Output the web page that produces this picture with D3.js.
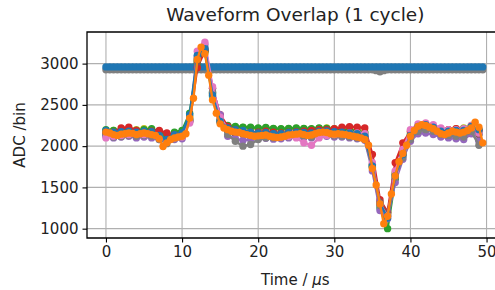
<!DOCTYPE html>
<html>
<head>
<meta charset="utf-8">
<script src="https://cdnjs.cloudflare.com/ajax/libs/d3/7.8.5/d3.min.js"></script>
<style>
  body { margin: 0; background: #fff; }
  svg { display: block; font-family: "DejaVu Sans", sans-serif; }
</style>
</head>
<body>
<div id="chart"></div>
<script>
// sample times (us): flat channels + main trace every 0.5 us, the rest every 1 us
var tFine = d3.range(0, 50, 0.5);
var tCoarse = d3.range(0, 50, 1);

var xTicks = [0, 10, 20, 30, 40, 50];
var yTicks = [1000, 1500, 2000, 2500, 3000];

// two channels sitting flat near the top
var flatHigh = [
  2960,2960,2960,2960,2960,2960,2960,2960,2960,2960,
  2960,2960,2960,2960,2960,2960,2960,2960,2960,2960,
  2960,2960,2960,2960,2960,2960,2960,2960,2960,2960,
  2960,2960,2960,2960,2960,2960,2960,2960,2960,2960,
  2960,2960,2960,2960,2960,2960,2960,2960,2960,2960,
  2960,2960,2960,2960,2960,2960,2960,2960,2960,2960,
  2960,2960,2960,2960,2960,2960,2960,2960,2960,2960,
  2960,2960,2960,2960,2960,2960,2960,2960,2960,2960,
  2960,2960,2960,2960,2960,2960,2960,2960,2960,2960,
  2960,2960,2960,2960,2960,2960,2960,2960,2960,2960
];
var flatLow = [
  2925,2925,2925,2925,2925,2925,2925,2925,2925,2925,
  2925,2925,2925,2925,2925,2925,2925,2925,2925,2925,
  2925,2925,2925,2925,2925,2925,2925,2925,2925,2925,
  2925,2925,2925,2925,2925,2925,2925,2925,2925,2925,
  2925,2925,2925,2925,2925,2925,2925,2925,2925,2925,
  2925,2925,2925,2925,2925,2925,2925,2925,2925,2925,
  2925,2925,2925,2925,2925,2925,2925,2925,2925,2925,
  2925,2915,2900,2915,2925,2925,2925,2925,2925,2925,
  2925,2925,2925,2925,2925,2925,2925,2925,2925,2925,
  2925,2925,2925,2925,2925,2925,2925,2925,2925,2925
];

// waveforms, one value per us
var waveBlue = [2190,2170,2175,2180,2170,2180,2175,2130,2080,2140,2160,2380,3100,3180,2620,2300,2220,2200,2190,2170,2160,2165,2150,2150,2165,2170,2165,2160,2180,2185,2175,2170,2160,2150,2120,1760,1300,1130,1640,1900,2130,2240,2260,2230,2180,2180,2190,2190,2240,2200];
var waveGreen = [2200,2190,2195,2200,2190,2200,2210,2180,2120,2170,2190,2400,3000,3150,2650,2330,2250,2240,2230,2230,2220,2225,2215,2210,2215,2220,2215,2210,2220,2215,2205,2200,2195,2180,2160,1750,1250,1000,1600,1900,2140,2230,2240,2230,2200,2190,2200,2210,2230,2180];
var waveRed = [2150,2170,2220,2230,2190,2170,2180,2190,2160,2140,2150,2300,2950,3160,2700,2380,2240,2200,2180,2170,2170,2180,2170,2160,2170,2175,2180,2190,2200,2200,2210,2230,2235,2230,2220,1900,1350,1200,1800,2040,2180,2230,2220,2200,2190,2200,2210,2200,2230,2190];
var wavePurple = [2120,2100,2110,2120,2100,2110,2100,2080,2050,2080,2090,2300,3080,3230,2700,2380,2120,2090,2070,2080,2090,2095,2085,2090,2100,2110,2105,2100,2120,2120,2110,2110,2100,2090,2070,1700,1220,1120,1560,1840,2060,2150,2160,2140,2110,2100,2090,2080,2150,2060];
var waveBrown = [2160,2150,2150,2170,2160,2170,2160,2120,2070,2110,2130,2320,3020,3170,2640,2300,2180,2150,2140,2150,2150,2155,2150,2140,2150,2160,2150,2150,2170,2170,2160,2165,2160,2150,2130,1780,1320,1180,1660,1880,2100,2200,2220,2200,2160,2150,2160,2160,2200,2140];
var wavePink = [2100,2120,2130,2140,2150,2140,2150,2110,2060,2100,2110,2280,3150,3260,2720,2350,2210,2180,2170,2160,2150,2140,2120,2110,2120,2100,2040,2010,2100,2130,2140,2150,2160,2160,2150,1800,1300,1150,1700,1960,2200,2270,2280,2260,2220,2200,2200,2210,2250,2160];
var waveGray = [2130,2110,2115,2130,2120,2130,2120,2080,2030,2090,2110,2310,3060,3190,2660,2320,2140,2060,2000,2020,2080,2100,2100,2105,2115,2120,2115,2110,2130,2135,2125,2120,2110,2100,2080,1740,1280,1160,1620,1860,2080,2180,2200,2180,2140,2130,2120,2110,2180,2010];
var waveOlive = [2180,2190,2185,2195,2200,2210,2190,2160,2110,2150,2170,2360,3030,3150,2620,2310,2240,2230,2225,2220,2215,2220,2210,2205,2210,2215,2210,2205,2215,2220,2210,2205,2200,2190,2170,1770,1310,1190,1680,1920,2160,2240,2250,2240,2210,2200,2210,2220,2250,2200];
var waveCyan = [2140,2130,2135,2150,2140,2150,2140,2100,2060,2110,2130,2330,3040,3140,2600,2290,2190,2160,2150,2140,2140,2150,2140,2135,2145,2155,2150,2145,2160,2160,2150,2150,2140,2130,2110,1760,1300,1160,1650,1900,2120,2210,2230,2200,2150,2150,2160,2160,2210,2150];

// main trace, every 0.5 us
var waveOrange = [
  2170,2160,2140,2130,2145,2150,2160,2155,2140,2150,
  2160,2150,2140,2130,2090,1995,2040,2080,2100,2110,
  2120,2150,2340,2580,3050,3200,3120,2860,2560,2400,
  2270,2220,2200,2180,2170,2165,2150,2140,2130,2120,
  2125,2130,2135,2120,2110,2105,2110,2120,2135,2140,
  2145,2150,2140,2130,2135,2150,2165,2170,2165,2150,
  2145,2150,2145,2140,2130,2120,2110,2100,2080,2010,
  1730,1530,1300,1060,1150,1420,1640,1810,1910,2010,
  2120,2190,2240,2260,2250,2230,2210,2180,2150,2140,
  2160,2180,2170,2160,2170,2190,2220,2290,2230,2040
];

var colors = {
  blue: '#1f77b4', orange: '#ff7f0e', green: '#2ca02c', red: '#d62728',
  purple: '#9467bd', brown: '#8c564b', pink: '#e377c2', gray: '#7f7f7f',
  olive: '#bcbd22', cyan: '#17becf'
};

// draw order: flat channels, the band, then the main trace on top
var series = [
  {t: tFine, v: flatLow, c: colors.gray},
  {t: tFine, v: flatHigh, c: colors.blue},
  {t: tCoarse, v: waveCyan, c: colors.cyan},
  {t: tCoarse, v: waveOlive, c: colors.olive},
  {t: tCoarse, v: waveGreen, c: colors.green},
  {t: tCoarse, v: waveRed, c: colors.red},
  {t: tCoarse, v: waveBrown, c: colors.brown},
  {t: tCoarse, v: wavePurple, c: colors.purple},
  {t: tCoarse, v: waveGray, c: colors.gray},
  {t: tCoarse, v: wavePink, c: colors.pink},
  {t: tCoarse, v: waveBlue, c: colors.blue},
  {t: tFine, v: waveOrange, c: colors.orange}
];

var W = 495, H = 290;
var plot = {left: 87, top: 32, right: 503.6, bottom: 238};

var x = d3.scaleLinear().domain([-2.49, 52.24]).range([plot.left, plot.right]);
var y = d3.scaleLinear().domain([887, 3383]).range([plot.bottom, plot.top]);

var svg = d3.select('#chart').append('svg')
  .attr('width', W)
  .attr('height', H);

svg.append('clipPath').attr('id', 'clip')
  .append('rect')
  .attr('x', plot.left).attr('y', plot.top)
  .attr('width', plot.right - plot.left).attr('height', plot.bottom - plot.top);

// grid
var grid = svg.append('g').attr('stroke', '#b0b0b0').attr('stroke-width', 1.1);
grid.selectAll('.gx').data(xTicks).enter().append('line')
  .attr('x1', function(d) { return x(d); }).attr('x2', function(d) { return x(d); })
  .attr('y1', plot.top).attr('y2', plot.bottom);
grid.selectAll('.gy').data(yTicks).enter().append('line')
  .attr('x1', plot.left).attr('x2', plot.right)
  .attr('y1', function(d) { return y(d); }).attr('y2', function(d) { return y(d); });

// traces
var line = d3.line()
  .x(function(d) { return x(d[0]); })
  .y(function(d) { return y(d[1]); });

var traces = svg.append('g').attr('clip-path', 'url(#clip)');
series.forEach(function(s) {
  var pts = s.t.map(function(t, i) { return [t, s.v[i]]; });
  var g = traces.append('g');
  g.append('path')
    .datum(pts)
    .attr('fill', 'none')
    .attr('stroke', s.c)
    .attr('stroke-width', 2.4)
    .attr('stroke-linejoin', 'round')
    .attr('d', line);
  g.selectAll('circle').data(pts).enter().append('circle')
    .attr('cx', function(d) { return x(d[0]); })
    .attr('cy', function(d) { return y(d[1]); })
    .attr('r', 3.7)
    .attr('fill', s.c);
});

// axes
var xAxis = svg.append('g')
  .attr('transform', 'translate(0,' + plot.bottom + ')')
  .call(d3.axisBottom(x).tickValues(xTicks).tickSize(4.5).tickPadding(4));
var yAxis = svg.append('g')
  .attr('transform', 'translate(' + plot.left + ',0)')
  .call(d3.axisLeft(y).tickValues(yTicks).tickSize(4.5).tickPadding(4).tickFormat(d3.format('d')));
[xAxis, yAxis].forEach(function(a) {
  a.select('.domain').remove();
  a.selectAll('.tick line').attr('stroke', '#000').attr('stroke-width', 1.1);
  a.selectAll('.tick text')
    .attr('font-family', '"DejaVu Sans", sans-serif')
    .attr('font-size', 15)
    .attr('fill', '#222');
});

// spines (left, bottom, top; right one falls outside the picture)
var spines = svg.append('g').attr('stroke', '#000').attr('stroke-width', 1.3).attr('fill', 'none');
spines.append('path')
  .attr('d', 'M' + plot.right + ',' + plot.top + 'H' + plot.left + 'V' + plot.bottom + 'H' + plot.right);

// labels
svg.append('text')
  .attr('x', (plot.left + plot.right) / 2).attr('y', 21)
  .attr('text-anchor', 'middle')
  .attr('font-size', 18.5)
  .attr('fill', '#222')
  .text('Waveform Overlap (1 cycle)');

var xl = svg.append('text')
  .attr('x', (plot.left + plot.right) / 2).attr('y', 285)
  .attr('text-anchor', 'middle')
  .attr('font-size', 15)
  .attr('fill', '#222');
xl.append('tspan').text('Time / ');
xl.append('tspan').attr('font-style', 'italic').text('μ');
xl.append('tspan').text('s');

svg.append('text')
  .attr('transform', 'translate(25,135) rotate(-90)')
  .attr('text-anchor', 'middle')
  .attr('font-size', 15)
  .attr('fill', '#222')
  .text('ADC /bin');
</script>
</body>
</html>
